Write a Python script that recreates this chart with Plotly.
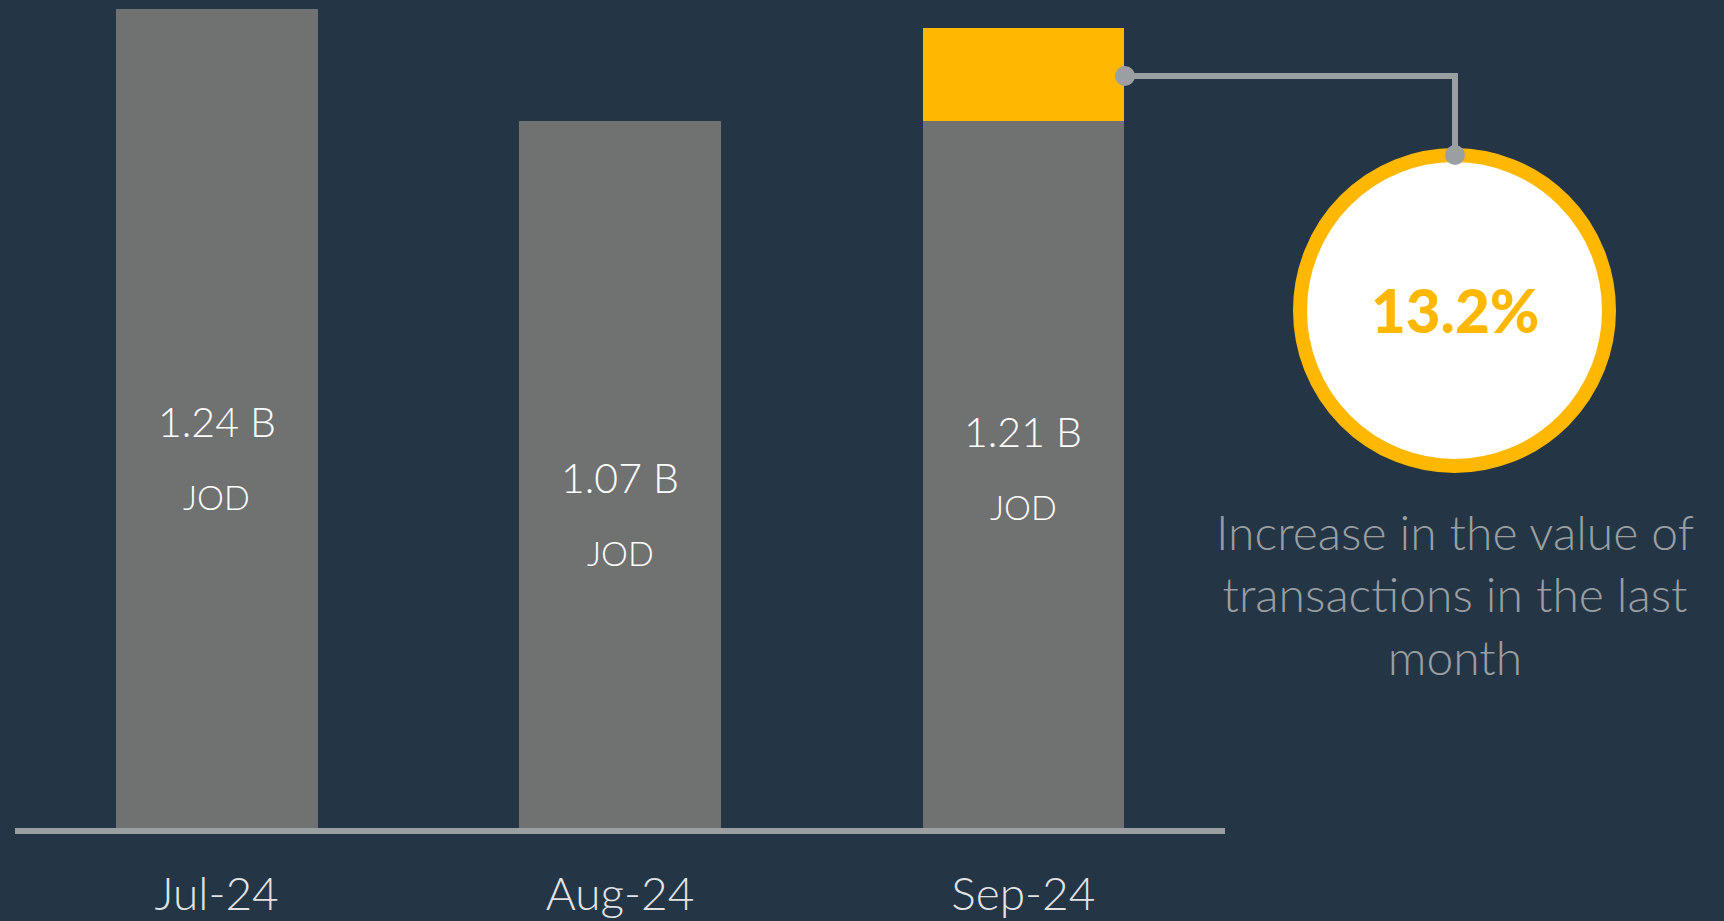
import plotly.graph_objects as go

# Monthly transaction value (billion JOD)
months = ["Jul-24", "Aug-24", "Sep-24"]
values = [1.24, 1.07, 1.21]
value_labels = ["1.24 B", "1.07 B", "1.21 B"]
unit_label = "JOD"
growth_label = "13.2%"
growth_caption = "Increase in the value of<br>transactions in the last<br>month"

BG = "#243646"
BAR_GREY = "#707271"
YELLOW = "#FFB700"
LINE_GREY = "#9A9FA2"
FONT = "Lato"

# Latest month split into previous-month level + increase
base = values[:2] + [values[1]]
increase = [0, 0, values[2] - values[1]]

W, H = 1724, 921
ML, MR, MT, MB = 15, 499, 2, 93
PW, PH = W - ML - MR, H - MT - MB


def px(x):
    return (x - ML) / PW


def py(y):
    return (H - MB - y) / PH


fig = go.Figure()
fig.add_trace(go.Bar(x=months, y=base, marker=dict(color=BAR_GREY, line=dict(width=0)),
                     hoverinfo="skip"))
fig.add_trace(go.Bar(x=months, y=increase, marker=dict(color=YELLOW, line=dict(width=0)),
                     hoverinfo="skip"))

annotations = []
for m, v, lab in zip(months, values, value_labels):
    annotations.append(dict(x=m, y=v / 2, xref="x", yref="y", text=lab, showarrow=False,
                            xanchor="center", yanchor="middle", yshift=-3,
                            font=dict(family=FONT, size=41, color="#FFFFFF", weight=300)))
    annotations.append(dict(x=m, y=v / 2, xref="x", yref="y", text=unit_label, showarrow=False,
                            xanchor="center", yanchor="middle", yshift=-78,
                            font=dict(family=FONT, size=34, color="#FFFFFF", weight=300)))

annotations.append(dict(x=px(1455), y=py(310), xref="paper", yref="paper", text=growth_label,
                        showarrow=False, xanchor="center", yanchor="middle",
                        font=dict(family=FONT, size=60, color=YELLOW, weight=900)))
annotations.append(dict(x=px(1455), y=py(594), xref="paper", yref="paper", text=growth_caption,
                        showarrow=False, align="center", xanchor="center", yanchor="middle",
                        font=dict(family=FONT, size=48, color="#9A9EA1", weight=300)))

shapes = [
    # growth badge
    dict(type="circle", xref="paper", yref="paper", x0=px(1300), x1=px(1609), y0=py(466), y1=py(155),
         line=dict(color=YELLOW, width=14), fillcolor="#FFFFFF", layer="above"),
    # connector from the increase segment to the badge
    dict(type="path", xref="paper", yref="paper",
         path=f"M {px(1125)} {py(76)} L {px(1455)} {py(76)} L {px(1455)} {py(155)}",
         line=dict(color=LINE_GREY, width=6), layer="above"),
    dict(type="circle", xref="paper", yref="paper", x0=px(1115), x1=px(1135), y0=py(86), y1=py(66),
         line=dict(width=0), fillcolor=LINE_GREY, layer="above"),
    dict(type="circle", xref="paper", yref="paper", x0=px(1445), x1=px(1465), y0=py(165), y1=py(145),
         line=dict(width=0), fillcolor=LINE_GREY, layer="above"),
]

fig.update_layout(
    width=W, height=H,
    margin=dict(l=ML, r=MR, t=MT, b=MB, autoexpand=False),
    paper_bgcolor=BG, plot_bgcolor=BG,
    barmode="stack", bargap=0.5,
    showlegend=False,
    annotations=annotations,
    shapes=shapes,
    xaxis=dict(showgrid=False, zeroline=False, showline=True, linecolor=LINE_GREY, linewidth=6,
               automargin=False,
               ticks="outside", ticklen=21, tickcolor="rgba(0,0,0,0)",
               tickfont=dict(family=FONT, size=46, color="#E2E3E4", weight=300)),
    yaxis=dict(range=[0, 1.25], showgrid=False, zeroline=False, showticklabels=False,
               showline=False, automargin=False),
)

fig.write_html("out.html", config={"displayModeBar": False})
